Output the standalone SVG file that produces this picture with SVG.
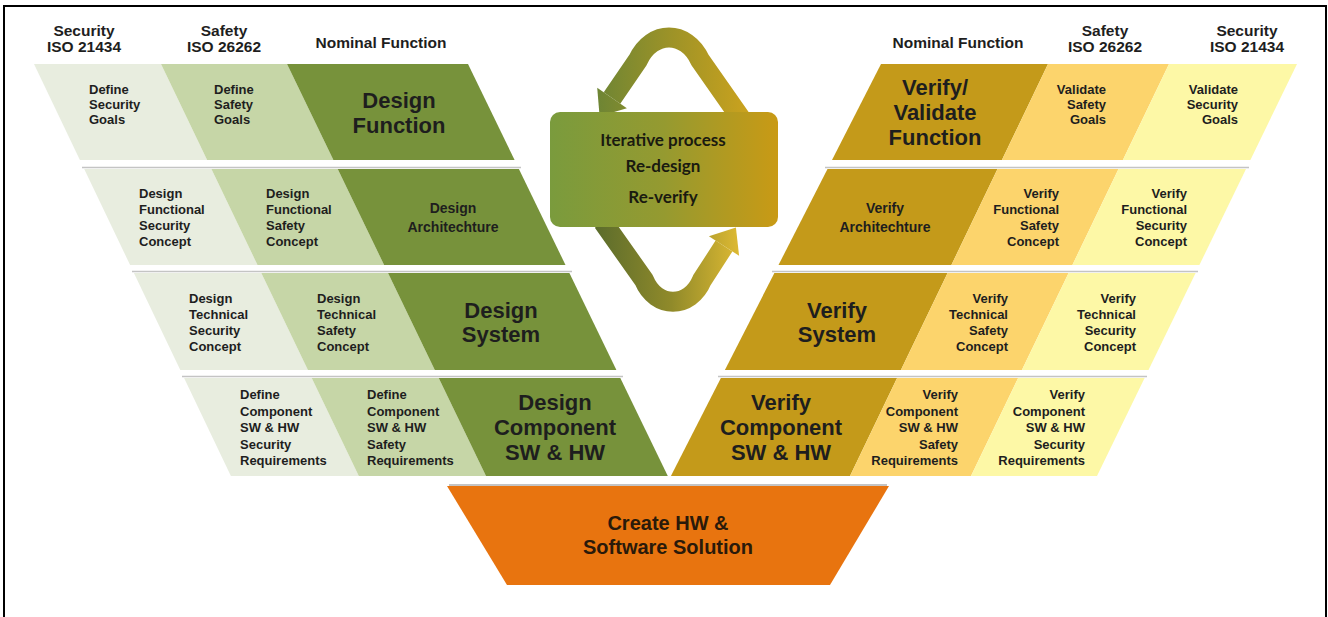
<svg xmlns="http://www.w3.org/2000/svg" width="1328" height="617" viewBox="0 0 1328 617">
<style>
text{font-family:"Liberation Sans",Arial,sans-serif;font-weight:bold;fill:#1e1e1e}
.hdr{font-size:15.5px;text-anchor:middle}
.sm{font-size:13px}
.smr{font-size:13px;text-anchor:end}
.big{font-size:22px;text-anchor:middle}
.m14{font-size:14px;text-anchor:middle}
.ctr{font-family:Lato,"Open Sans",sans-serif;font-size:17px;text-anchor:middle;fill:#1a1a10}
.sol{font-size:20px;text-anchor:middle;fill:#2a1a0a}
.ll{fill:#e8eddf}.lm{fill:#c6d6a7}.ld{fill:#77923b}
.rd{fill:#c49a1a}.rm{fill:#fcd46c}.rl{fill:#fdf8a6}
.sep{stroke:#c4c4c4;stroke-width:1.5;fill:none}
.band{fill:none;stroke-width:20;stroke-linejoin:round}
</style>
<defs>
<linearGradient id="gTop" gradientUnits="userSpaceOnUse" x1="598" y1="0" x2="748" y2="0">
<stop offset="0" stop-color="#6e8534"/><stop offset="0.5" stop-color="#9e9327"/><stop offset="1" stop-color="#caa21e"/>
</linearGradient>
<linearGradient id="gBot" gradientUnits="userSpaceOnUse" x1="598" y1="0" x2="745" y2="0">
<stop offset="0" stop-color="#5d6d2c"/><stop offset="0.5" stop-color="#908a2a"/><stop offset="1" stop-color="#e4bd33"/>
</linearGradient>
<linearGradient id="gBox" gradientUnits="userSpaceOnUse" x1="550" y1="0" x2="778" y2="0">
<stop offset="0" stop-color="#7a9b3d"/><stop offset="0.5" stop-color="#959a30"/><stop offset="1" stop-color="#c99a15"/>
</linearGradient>
</defs>

<rect x="4" y="6" width="1322" height="620" fill="#fff" stroke="#000" stroke-width="2"/>

<g id="headers">
<text class="hdr" x="84" y="36">Security</text><text class="hdr" x="84" y="52">ISO 21434</text>
<text class="hdr" x="224" y="36">Safety</text><text class="hdr" x="224" y="52">ISO 26262</text>
<text class="hdr" x="381" y="48">Nominal Function</text>
<text class="hdr" x="958" y="48">Nominal Function</text>
<text class="hdr" x="1105" y="36">Safety</text><text class="hdr" x="1105" y="52">ISO 26262</text>
<text class="hdr" x="1247" y="36">Security</text><text class="hdr" x="1247" y="52">ISO 21434</text>
</g>

<g id="separators">
<line class="sep" x1="82" y1="167.5" x2="521" y2="167.5"/>
<line class="sep" x1="132" y1="271.5" x2="572" y2="271.5"/>
<line class="sep" x1="182" y1="376.5" x2="623" y2="376.5"/>
<line class="sep" x1="825" y1="167.5" x2="1249" y2="167.5"/>
<line class="sep" x1="772" y1="271.5" x2="1198" y2="271.5"/>
<line class="sep" x1="718" y1="376.5" x2="1147" y2="376.5"/>
<line x1="449" y1="485" x2="887" y2="485" stroke="#b0b0b0" stroke-width="1.5"/>
</g>

<g id="connectors">
<path class="band" stroke="url(#gTop)" d="M 742 120 L 700 60 C 686 30, 652 30, 638 60 L 612 98"/>
<polygon fill="url(#gTop)" points="597.2,87.8 626.9,108.2 599.6,116.2"/>
<path class="band" stroke="url(#gBot)" d="M 603 222 L 644 280 C 656 309, 690 309, 702 280 L 724 246"/>
<polygon fill="url(#gBot)" points="708.9,236.2 739.1,255.8 735.9,227.5"/>
</g>

<g id="iterative">
<rect x="550" y="112" width="228" height="115" rx="10" fill="url(#gBox)"/>
<text class="ctr" x="663" y="146">Iterative process</text>
<text class="ctr" x="663" y="172">Re-design</text>
<text class="ctr" x="663" y="203">Re-verify</text>
</g>

<!-- Left row 1 -->
<g id="def-sec-goals"><polygon class="ll" points="34,64 161,64 207.1,160 79.9,160"/>
<text class="sm"><tspan x="89" y="94">Define</tspan><tspan x="89" y="109">Security</tspan><tspan x="89" y="124">Goals</tspan></text></g>
<g id="def-safe-goals"><polygon class="lm" points="161,64 287,64 333.4,160 207.1,160"/>
<text class="sm"><tspan x="214" y="94">Define</tspan><tspan x="214" y="109">Safety</tspan><tspan x="214" y="124">Goals</tspan></text></g>
<g id="design-function"><polygon class="ld" points="287,64 468,64 514.6,160 333.4,160"/>
<text class="big"><tspan x="399" y="108">Design</tspan><tspan x="399" y="133">Function</tspan></text></g>

<!-- Left row 2 -->
<g id="dfsc"><polygon class="ll" points="84.2,169 211.4,169 257.5,265 130.1,265"/>
<text class="sm"><tspan x="139" y="198">Design</tspan><tspan x="139" y="214">Functional</tspan><tspan x="139" y="230">Security</tspan><tspan x="139" y="246">Concept</tspan></text></g>
<g id="dfsac"><polygon class="lm" points="211.4,169 337.7,169 384.1,265 257.5,265"/>
<text class="sm"><tspan x="266" y="198">Design</tspan><tspan x="266" y="214">Functional</tspan><tspan x="266" y="230">Safety</tspan><tspan x="266" y="246">Concept</tspan></text></g>
<g id="design-arch"><polygon class="ld" points="337.7,169 518.9,169 565.5,265 384.1,265"/>
<text class="m14"><tspan x="453" y="213">Design</tspan><tspan x="453" y="232">Architechture</tspan></text></g>

<!-- Left row 3 -->
<g id="dtsc"><polygon class="ll" points="133.9,273 261.3,273 307.9,370 180.3,370"/>
<text class="sm"><tspan x="189" y="303">Design</tspan><tspan x="189" y="319">Technical</tspan><tspan x="189" y="335">Security</tspan><tspan x="189" y="351">Concept</tspan></text></g>
<g id="dtsac"><polygon class="lm" points="261.3,273 388,273 434.8,370 307.9,370"/>
<text class="sm"><tspan x="317" y="303">Design</tspan><tspan x="317" y="319">Technical</tspan><tspan x="317" y="335">Safety</tspan><tspan x="317" y="351">Concept</tspan></text></g>
<g id="design-system"><polygon class="ld" points="388,273 569.4,273 616.4,370 434.8,370"/>
<text class="big"><tspan x="501" y="318">Design</tspan><tspan x="501" y="342">System</tspan></text></g>

<!-- Left row 4 -->
<g id="dcsr"><polygon class="ll" points="184.1,378 311.7,378 358.8,476 230.9,476"/>
<text class="sm"><tspan x="240" y="399">Define</tspan><tspan x="240" y="416">Component</tspan><tspan x="240" y="432">SW &amp; HW</tspan><tspan x="240" y="449">Security</tspan><tspan x="240" y="465">Requirements</tspan></text></g>
<g id="dcsar"><polygon class="lm" points="311.7,378 438.7,378 486,476 358.8,476"/>
<text class="sm"><tspan x="367" y="399">Define</tspan><tspan x="367" y="416">Component</tspan><tspan x="367" y="432">SW &amp; HW</tspan><tspan x="367" y="449">Safety</tspan><tspan x="367" y="465">Requirements</tspan></text></g>
<g id="design-component"><polygon class="ld" points="438.7,378 620.3,378 667.8,476 486,476"/>
<text class="big"><tspan x="555" y="410">Design</tspan><tspan x="555" y="435">Component</tspan><tspan x="555" y="460">SW &amp; HW</tspan></text></g>

<!-- Right row 1 -->
<g id="verify-validate-function"><polygon class="rd" points="881,64 1048,64 1001.9,160 832,160"/>
<text class="big"><tspan x="935" y="95">Verify/</tspan><tspan x="935" y="120">Validate</tspan><tspan x="935" y="145">Function</tspan></text></g>
<g id="val-safe-goals"><polygon class="rm" points="1048,64 1169,64 1122.9,160 1001.9,160"/>
<text class="smr"><tspan x="1106" y="94">Validate</tspan><tspan x="1106" y="109">Safety</tspan><tspan x="1106" y="124">Goals</tspan></text></g>
<g id="val-sec-goals"><polygon class="rl" points="1169,64 1297,64 1250.4,160 1122.9,160"/>
<text class="smr"><tspan x="1238" y="94">Validate</tspan><tspan x="1238" y="109">Security</tspan><tspan x="1238" y="124">Goals</tspan></text></g>

<!-- Right row 2 -->
<g id="verify-arch"><polygon class="rd" points="827.5,169 997.5,169 951.4,265 778.5,265"/>
<text class="m14"><tspan x="885" y="213">Verify</tspan><tspan x="885" y="232">Architechture</tspan></text></g>
<g id="vfsac"><polygon class="rm" points="997.5,169 1118.5,169 1072.4,265 951.4,265"/>
<text class="smr"><tspan x="1059" y="198">Verify</tspan><tspan x="1059" y="214">Functional</tspan><tspan x="1059" y="230">Safety</tspan><tspan x="1059" y="246">Concept</tspan></text></g>
<g id="vfsc"><polygon class="rl" points="1118.5,169 1246,169 1199.4,265 1072.4,265"/>
<text class="smr"><tspan x="1187" y="198">Verify</tspan><tspan x="1187" y="214">Functional</tspan><tspan x="1187" y="230">Security</tspan><tspan x="1187" y="246">Concept</tspan></text></g>

<!-- Right row 3 -->
<g id="verify-system"><polygon class="rd" points="774.4,273 947.6,273 900.9,370 724.9,370"/>
<text class="big"><tspan x="837" y="318">Verify</tspan><tspan x="837" y="342">System</tspan></text></g>
<g id="vtsac"><polygon class="rm" points="947.6,273 1068.6,273 1021.9,370 900.9,370"/>
<text class="smr"><tspan x="1008" y="303">Verify</tspan><tspan x="1008" y="319">Technical</tspan><tspan x="1008" y="335">Safety</tspan><tspan x="1008" y="351">Concept</tspan></text></g>
<g id="vtsc"><polygon class="rl" points="1068.6,273 1195.6,273 1148.5,370 1021.9,370"/>
<text class="smr"><tspan x="1136" y="303">Verify</tspan><tspan x="1136" y="319">Technical</tspan><tspan x="1136" y="335">Security</tspan><tspan x="1136" y="351">Concept</tspan></text></g>

<!-- Right row 4 -->
<g id="verify-component"><polygon class="rd" points="720.9,378 897.1,378 850,476 670.9,476"/>
<text class="big"><tspan x="781" y="410">Verify</tspan><tspan x="781" y="435">Component</tspan><tspan x="781" y="460">SW &amp; HW</tspan></text></g>
<g id="vcsar"><polygon class="rm" points="897.1,378 1018.1,378 971,476 850,476"/>
<text class="smr"><tspan x="958" y="399">Verify</tspan><tspan x="958" y="416">Component</tspan><tspan x="958" y="432">SW &amp; HW</tspan><tspan x="958" y="449">Safety</tspan><tspan x="958" y="465">Requirements</tspan></text></g>
<g id="vcsr"><polygon class="rl" points="1018.1,378 1144.6,378 1097,476 971,476"/>
<text class="smr"><tspan x="1085" y="399">Verify</tspan><tspan x="1085" y="416">Component</tspan><tspan x="1085" y="432">SW &amp; HW</tspan><tspan x="1085" y="449">Security</tspan><tspan x="1085" y="465">Requirements</tspan></text></g>

<!-- Bottom -->
<g id="create-solution"><polygon points="447,486 889,486 830,585 507,585" fill="#e8740f"/>
<text class="sol"><tspan x="668" y="530">Create HW &amp;</tspan><tspan x="668" y="554">Software Solution</tspan></text></g>
</svg>
